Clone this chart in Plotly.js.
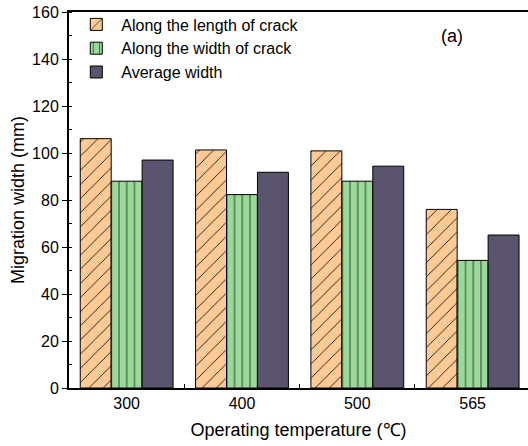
<!DOCTYPE html>
<html><head><meta charset="utf-8">
<script src="https://cdn.plot.ly/plotly-3.0.1.min.js"></script>
<style>html,body{margin:0;padding:0;background:#fff;overflow:hidden}</style>
</head><body>
<div id="chart" style="width:528px;height:446px"></div>
<script>
const temperatures = ['300', '400', '500', '565'];
const alongLength = [106.1, 101.3, 100.9, 76.0];
const alongWidth = [88.0, 82.3, 88.0, 54.3];
const averageWidth = [97.0, 91.8, 94.4, 65.1];
const seriesNames = ['Along the length of crack', 'Along the width of crack', 'Average width'];

const font = 'Arial, "Liberation Sans", sans-serif';
const traces = [
  {type:'bar', name:seriesNames[0], x:temperatures, y:alongLength,
   marker:{color:'#FDC994', line:{color:'#000', width:1},
     pattern:{shape:'/', fgcolor:'#000', bgcolor:'#FDC994', size:10, solidity:0.08}}},
  {type:'bar', name:seriesNames[1], x:temperatures, y:alongWidth,
   marker:{color:'#99D99A', line:{color:'#000', width:1},
     pattern:{shape:'|', fgcolor:'#2a3a2a', bgcolor:'#99D99A', size:7.7, solidity:0.12}}},
  {type:'bar', name:seriesNames[2], x:temperatures, y:averageWidth,
   marker:{color:'#4E4760', line:{color:'#000', width:1},
     pattern:{shape:'|', fgcolor:'#7D7492', bgcolor:'#3E394E', size:2, solidity:0.45}}}
];
const layout = {
  width:528, height:446,
  margin:{l:69, r:0, t:12, b:58},
  paper_bgcolor:'#fff', plot_bgcolor:'#fff',
  font:{family:font, size:16, color:'#000'},
  bargap:0.195, bargroupgap:0, barmode:'group',
  showlegend:true,
  legend:{x:0.005, y:1.012, xanchor:'left', yanchor:'top', bgcolor:'rgba(0,0,0,0)',
    font:{family:font, size:16}, tracegroupgap:0, itemwidth:40},
  xaxis:{type:'category', categoryorder:'array', categoryarray:temperatures,
    range:[-0.5, 3.48], showline:true, linecolor:'#000', linewidth:2, mirror:true,
    ticks:'inside', tickson:'boundaries', ticklen:4, tickcolor:'#000',
    showgrid:false, zeroline:false,
    tickfont:{family:font, size:16},
    title:{text:'Operating temperature (℃)', font:{family:font, size:18}, standoff:12}},
  yaxis:{range:[0,160], dtick:20, showline:true, linecolor:'#000', linewidth:2,
    ticks:'outside', ticklen:5, tickcolor:'#000', showgrid:false, zeroline:false,
    minor:{dtick:10, ticks:'inside', ticklen:3, tickcolor:'#000', showgrid:false},
    tickfont:{family:font, size:16},
    title:{text:'Migration width (mm)', font:{family:font, size:18}, standoff:3}},
  annotations:[{text:'(a)', xref:'paper', yref:'paper', x:0.834, y:0.935,
    xanchor:'center', yanchor:'middle', showarrow:false, font:{family:font, size:18}}]
};
Plotly.newPlot('chart', traces, layout, {displayModeBar:false, staticPlot:true});
</script>
</body></html>
